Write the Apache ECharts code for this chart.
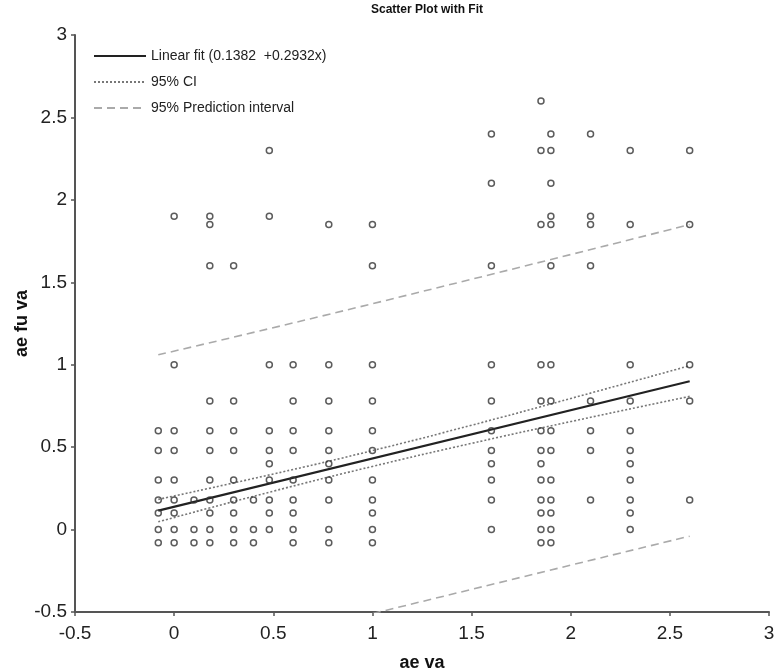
<!DOCTYPE html>
<html>
<head>
<meta charset="utf-8">
<script src="https://cdn.jsdelivr.net/npm/echarts@6/dist/echarts.min.js"></script>
<style>
html,body{margin:0;padding:0;background:#fff;}
#chart{width:779px;height:671px;}
</style>
</head>
<body>
<div id="chart"></div>
<script>
// Scatter columns: x value and the y values observed at that x
const columnX = [-0.08, 0, 0.1, 0.18, 0.3, 0.4, 0.48, 0.6, 0.78, 1.0, 1.6, 1.85, 1.9, 2.1, 2.3, 2.6];
const columnY = [
  [0.6, 0.48, 0.3, 0.18, 0.1, 0, -0.08],
  [1.9, 1.0, 0.6, 0.48, 0.3, 0.18, 0.1, 0, -0.08],
  [0.18, 0, -0.08],
  [1.9, 1.85, 1.6, 0.78, 0.6, 0.48, 0.3, 0.18, 0.1, 0, -0.08],
  [1.6, 0.78, 0.6, 0.48, 0.3, 0.18, 0.1, 0, -0.08],
  [0.18, 0, -0.08],
  [2.3, 1.9, 1.0, 0.6, 0.48, 0.4, 0.3, 0.18, 0.1, 0],
  [1.0, 0.78, 0.6, 0.48, 0.3, 0.18, 0.1, 0, -0.08],
  [1.85, 1.0, 0.78, 0.6, 0.48, 0.4, 0.3, 0.18, 0, -0.08],
  [1.85, 1.6, 1.0, 0.78, 0.6, 0.48, 0.3, 0.18, 0.1, 0, -0.08],
  [2.4, 2.1, 1.6, 1.0, 0.78, 0.6, 0.48, 0.4, 0.3, 0.18, 0],
  [2.6, 2.3, 1.85, 1.0, 0.78, 0.6, 0.48, 0.4, 0.3, 0.18, 0.1, 0, -0.08],
  [2.4, 2.3, 2.1, 1.9, 1.85, 1.6, 1.0, 0.78, 0.6, 0.48, 0.3, 0.18, 0.1, 0, -0.08],
  [2.4, 1.9, 1.85, 1.6, 0.78, 0.6, 0.48, 0.18],
  [2.3, 1.85, 1.0, 0.78, 0.6, 0.48, 0.4, 0.3, 0.18, 0.1, 0],
  [2.3, 1.85, 1.0, 0.78, 0.18]
];
// Fit line endpoints
const fitX = [-0.08, 2.6];
const fitY = [0.115, 0.9];
// 95% CI curves
const ciX = [-0.08, 0.5, 1.0, 1.5, 2.0, 2.6];
const ciUpper = [0.183, 0.337, 0.479, 0.633, 0.795, 0.994];
const ciLower = [0.047, 0.233, 0.383, 0.523, 0.655, 0.808];
// 95% prediction interval
const piX = [-0.08, 1.0, 2.6];
const piUpper = [1.06, 1.37, 1.85];
const piLower = [-0.83, -0.51, -0.04];
// Axis ticks
const xTicks = [-0.5, 0, 0.5, 1, 1.5, 2, 2.5, 3];
const yTicks = [-0.5, 0, 0.5, 1, 1.5, 2, 2.5, 3];

const scatterData = [];
columnX.forEach((x, i) => columnY[i].forEach(y => scatterData.push([x, y])));
const pairs = (xs, ys) => xs.map((x, i) => [x, ys[i]]);

const FONT = '"Liberation Sans", Arial, sans-serif';
const chart = echarts.init(document.getElementById('chart'));
chart.setOption({
  animation: false,
  backgroundColor: '#fff',
  title: {
    text: 'Scatter Plot with Fit',
    left: 422, top: -1, textAlign: 'center',
    textStyle: {fontFamily: FONT, fontSize: 12, fontWeight: 'bold', color: '#111'}
  },
  grid: {left: 75, right: 10, top: 35, bottom: 59, containLabel: false, outerBoundsMode: 'none'},
  legend: {
    orient: 'vertical', left: 88, top: 44, itemWidth: 52, itemHeight: 10, itemGap: 12,
    itemStyle: {opacity: 0},
    textStyle: {fontFamily: FONT, fontSize: 14, color: '#222'},
    data: ['Linear fit (0.1382  +0.2932x)', '95% CI', '95% Prediction interval']
  },
  xAxis: {
    type: 'value', min: -0.5, max: 3, interval: 0.5,
    name: 'ae va', nameLocation: 'middle', nameGap: 42, nameMoveOverlap: false,
    nameTextStyle: {fontFamily: FONT, fontSize: 18, fontWeight: 'bold', color: '#111'},
    axisLine: {onZero: false, lineStyle: {color: '#555', width: 2}},
    axisTick: {length: 4, lineStyle: {color: '#555', width: 1.5}},
    axisLabel: {fontFamily: FONT, fontSize: 19, color: '#222', margin: 12,
      formatter: v => String(v)},
    splitLine: {show: false}
  },
  yAxis: {
    type: 'value', min: -0.5, max: 3, interval: 0.5,
    name: 'ae fu va', nameLocation: 'middle', nameGap: 44, nameMoveOverlap: false,
    nameTextStyle: {fontFamily: FONT, fontSize: 18, fontWeight: 'bold', color: '#111'},
    axisLine: {onZero: false, lineStyle: {color: '#555', width: 2}},
    axisTick: {length: 4, lineStyle: {color: '#555', width: 1.5}},
    axisLabel: {fontFamily: FONT, fontSize: 19, color: '#222', margin: 8,
      formatter: v => String(v)},
    splitLine: {show: false}
  },
  series: [
    {
      name: 'points', type: 'scatter', data: scatterData, symbol: 'circle', symbolSize: 6,
      itemStyle: {color: 'rgba(255,255,255,0)', borderColor: '#333', borderWidth: 1.5},
      z: 5
    },
    {
      name: 'Linear fit (0.1382  +0.2932x)', type: 'line', data: pairs(fitX, fitY),
      symbol: 'none', itemStyle: {color: '#222'}, lineStyle: {color: '#222', width: 2.2}, z: 4
    },
    {
      name: '95% CI', type: 'line', data: pairs(ciX, ciUpper), smooth: true,
      symbol: 'none', itemStyle: {color: '#777'}, lineStyle: {color: '#777', width: 1.6, type: [2, 2]}, z: 3
    },
    {
      name: '95% CI', type: 'line', data: pairs(ciX, ciLower), smooth: true,
      symbol: 'none', itemStyle: {color: '#777'}, lineStyle: {color: '#777', width: 1.6, type: [2, 2]}, z: 3
    },
    {
      name: '95% Prediction interval', type: 'line', data: pairs(piX, piUpper), smooth: true,
      symbol: 'none', itemStyle: {color: '#aaa'}, lineStyle: {color: '#aaa', width: 1.6, type: [8, 5]}, z: 3
    },
    {
      name: '95% Prediction interval', type: 'line', data: pairs(piX, piLower), smooth: true,
      symbol: 'none', itemStyle: {color: '#aaa'}, lineStyle: {color: '#aaa', width: 1.6, type: [8, 5]}, z: 3, clip: true
    }
  ]
});
</script>
</body>
</html>
